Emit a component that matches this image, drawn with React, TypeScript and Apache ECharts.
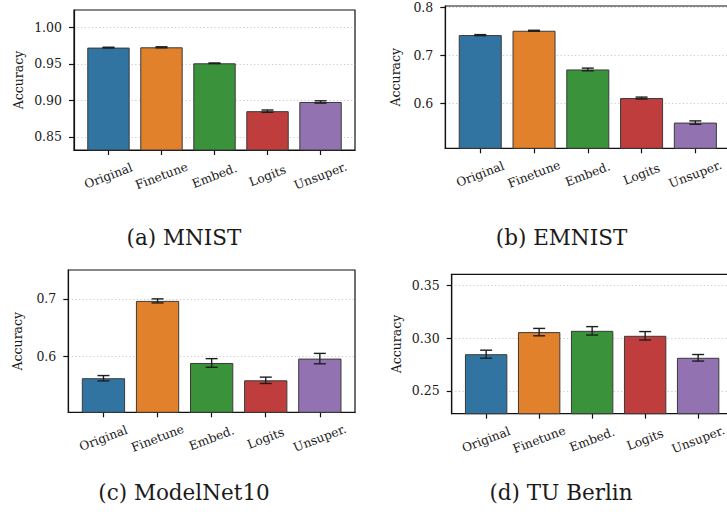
import React, { useEffect, useRef } from 'react';
import * as echarts from 'echarts';

const categories = ['Original', 'Finetune', 'Embed.', 'Logits', 'Unsuper.'];
const barColors = ['#3274A1', '#E1812C', '#3A923A', '#C03D3E', '#9372B2'];
const xPositions = [0, 1, 2, 3, 4];

const mnistAcc = [0.9723, 0.9727, 0.9508, 0.8852, 0.8978];
const mnistErr = [0.0005, 0.0007, 0.0004, 0.0016, 0.0016];
const mnistTicks = [0.85, 0.9, 0.95, 1.0];

const emnistAcc = [0.7425, 0.7515, 0.671, 0.6115, 0.5605];
const emnistErr = [0.001, 0.001, 0.0028, 0.002, 0.0035];
const emnistTicks = [0.6, 0.7, 0.8];

const modelnetAcc = [0.5626, 0.6965, 0.589, 0.559, 0.5966];
const modelnetErr = [0.0046, 0.0035, 0.0075, 0.0055, 0.009];
const modelnetTicks = [0.6, 0.7];

const tuberlinAcc = [0.2848, 0.3057, 0.3069, 0.3022, 0.2814];
const tuberlinErr = [0.0038, 0.0035, 0.004, 0.004, 0.0031];
const tuberlinTicks = [0.25, 0.3, 0.35];

const FONT = "'DejaVu Serif', 'Liberation Serif', serif";
const TEXT = '#1a1a1a';
const X_MIN = -0.65;
const X_MAX = 4.65;

const panels = [
  { title: '(a) MNIST', acc: mnistAcc, err: mnistErr, ticks: mnistTicks, digits: 2, yMin: 0.832, yMax: 1.0238,
    left: 74, top: 10, width: 281, height: 140, nameGap: 49, titleX: 184, titleY: 237 },
  { title: '(b) EMNIST', acc: emnistAcc, err: emnistErr, ticks: emnistTicks, digits: 1, yMin: 0.507, yMax: 0.803,
    left: 445.3, top: 6, width: 285, height: 142.3, nameGap: 43, titleX: 561.5, titleY: 237 },
  { title: '(c) ModelNet10', acc: modelnetAcc, err: modelnetErr, ticks: modelnetTicks, digits: 1, yMin: 0.5036, yMax: 0.75,
    left: 68.3, top: 270, width: 286.7, height: 142.3, nameGap: 44.5, titleX: 184, titleY: 492 },
  { title: '(d) TU Berlin', acc: tuberlinAcc, err: tuberlinErr, ticks: tuberlinTicks, digits: 2, yMin: 0.2285, yMax: 0.3604,
    left: 451.7, top: 274.3, width: 280.9, height: 139.4, nameGap: 49, titleX: 561, titleY: 492 },
];

function buildOption() {
  const grid: any[] = [];
  const xAxis: any[] = [];
  const yAxis: any[] = [];
  const series: any[] = [];
  const graphic: any[] = [];

  panels.forEach((p, i) => {
    grid.push({
      left: p.left, top: p.top, width: p.width, height: p.height,
      show: true, borderColor: '#111', borderWidth: 1.2, backgroundColor: 'transparent',
      containLabel: false, outerBoundsMode: 'none',
    });
    xAxis.push({
      type: 'value', gridIndex: i, min: X_MIN, max: X_MAX, position: 'bottom',
      axisLine: { show: true, onZero: false, lineStyle: { color: '#111', width: 1.2 } },
      splitLine: { show: false },
      axisTick: { show: true, customValues: xPositions, length: 5, lineStyle: { color: '#111', width: 1.2 } },
      axisLabel: {
        show: true, customValues: xPositions,
        formatter: (v: number) => categories[Math.round(v)] ?? '',
        rotate: 21, align: 'center', verticalAlign: 'middle', margin: 26,
        fontFamily: FONT, fontSize: 12.2, color: TEXT, hideOverlap: false,
      },
    });
    yAxis.push({
      type: 'value', gridIndex: i, min: p.yMin, max: p.yMax, position: 'left',
      axisLine: { show: true, onZero: false, lineStyle: { color: '#111', width: 1.2 } },
      axisTick: { show: true, customValues: p.ticks, length: 5, lineStyle: { color: '#111', width: 1.2 } },
      axisLabel: {
        show: true, customValues: p.ticks,
        formatter: (v: number) => v.toFixed(p.digits),
        margin: 12, fontFamily: FONT, fontSize: 12.5, color: TEXT, hideOverlap: false,
      },
      splitLine: { show: true, lineStyle: { type: [1.2, 2.4], color: '#c4c4c4', width: 0.9 } },
      name: 'Accuracy', nameLocation: 'middle', nameRotate: 90, nameGap: p.nameGap, nameMoveOverlap: false,
      nameTextStyle: { fontFamily: FONT, fontSize: 12.5, color: TEXT },
    });
    series.push({
      type: 'bar', xAxisIndex: i, yAxisIndex: i, z: 2,
      barWidth: (0.8 * p.width) / (X_MAX - X_MIN),
      data: p.acc.map((v, j) => ({ value: [xPositions[j], v], itemStyle: { color: barColors[j] } })),
      itemStyle: { borderColor: '#3a3a3a', borderWidth: 1 },
      clip: true,
    });
    series.push({
      type: 'custom', xAxisIndex: i, yAxisIndex: i, z: 3,
      data: p.acc.map((v, j) => [xPositions[j], v - p.err[j], v + p.err[j]]),
      encode: { x: 0, y: [1, 2] },
      renderItem: (params: any, api: any) => {
        const x = api.value(0);
        const lo = api.coord([x, api.value(1)]);
        const hi = api.coord([x, api.value(2)]);
        const style = { stroke: '#1e1e1e', lineWidth: 1.4 };
        const cap = 6;
        return {
          type: 'group',
          children: [
            { type: 'line', shape: { x1: lo[0], y1: lo[1], x2: hi[0], y2: hi[1] }, style },
            { type: 'line', shape: { x1: lo[0] - cap, y1: lo[1], x2: lo[0] + cap, y2: lo[1] }, style },
            { type: 'line', shape: { x1: hi[0] - cap, y1: hi[1], x2: hi[0] + cap, y2: hi[1] }, style },
          ],
        };
      },
    });
    graphic.push({
      type: 'text', x: p.titleX, y: p.titleY,
      style: { text: p.title, align: 'center', verticalAlign: 'middle', fontFamily: FONT, fontSize: 21.5, fill: TEXT },
    });
  });

  return { animation: false, grid, xAxis, yAxis, series, graphic };
}

export default function App() {
  const ref = useRef<HTMLDivElement>(null);
  useEffect(() => {
    document.body.style.margin = '0';
    if (!ref.current) return;
    const chart = echarts.init(ref.current, undefined, { renderer: 'svg' });
    chart.setOption(buildOption());
    return () => chart.dispose();
  }, []);
  return <div ref={ref} style={{ width: 727, height: 514, overflow: 'hidden', background: '#fff' }} />;
}
